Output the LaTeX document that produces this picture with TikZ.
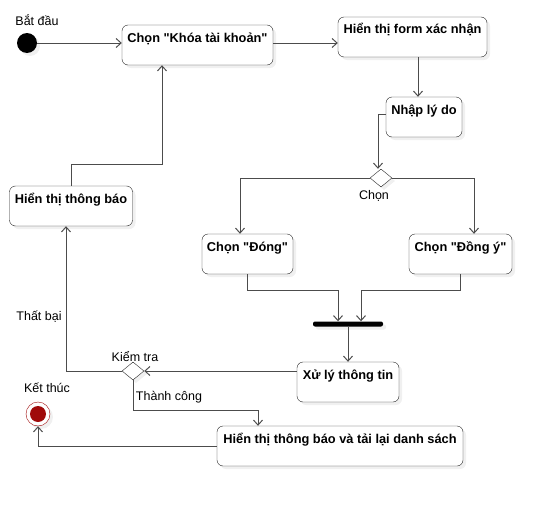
\documentclass[tikz,border=0pt]{standalone}
\usepackage{fontspec}
\setmainfont{Liberation Sans}
\usetikzlibrary{arrows.meta,shapes.geometric,shadows}
\definecolor{enddot}{RGB}{160,10,10}

\begin{document}
\begin{tikzpicture}[x=1pt,y=-1pt,font=\fontsize{12.5}{14}\selectfont,
    shade/.style={drop shadow={shadow xshift=3pt,shadow yshift=-3pt,opacity=.12}},
    act/.style={draw=black!85,fill=white,rounded corners=6pt,font=\fontsize{12.8}{14}\selectfont\bfseries,
      minimum height=40pt,text height=13pt,text depth=19pt,inner ysep=4pt,inner xsep=2pt,shade},
    choice/.style={diamond,draw=black!85,fill=white,minimum width=22pt,minimum height=18pt,inner sep=0pt,shade},
    flow/.style={draw=black!70,line width=1pt,-{Straight Barb[length=5pt,width=9pt]}}]
    \useasboundingbox (0,0) rectangle (552,506);
    \node[circle,fill=black,minimum size=20pt,inner sep=0pt,shade] (start) at (27,43) {};
    \node (lbStart) at (37,20) {Bắt đầu};
    \node[act,minimum width=151pt] (khoa) at (197.5,45) {Chọn \textquotedbl Khóa tài khoản\textquotedbl};
    \node[act,minimum width=149pt] (form) at (412.5,37) {Hiển thị form xác nhận};
    \node[act,minimum width=76pt] (nhap) at (424,117) {Nhập lý do};
    \node[choice] (chon) at (381,178) {};
    \node (lbChon) at (374,196) {Chọn};
    \node[act,minimum width=91pt] (dong) at (247.5,254) {Chọn \textquotedbl Đóng\textquotedbl};
    \node[act,minimum width=103pt] (dongy) at (460.5,254) {Chọn \textquotedbl Đồng ý\textquotedbl};
    \node[fill=black,minimum width=70pt,minimum height=5pt,inner sep=0pt,rounded corners=2pt,shade] (bar) at (348,324) {};
    \node[act,minimum width=102pt] (xuly) at (348,382) {Xử lý thông tin};
    \node[choice] (kiemtra) at (133,371) {};
    \node (lbKiemtra) at (135,357) {Kiểm tra};
    \node[act,minimum width=123pt] (thongbao) at (71,206) {Hiển thị thông báo};
    \node (lbThatbai) at (39,317) {Thất bại};
    \node (lbThanhcong) at (169,397) {Thành công};
    \node[act,minimum width=246pt] (taiLai) at (340,446) {Hiển thị thông báo và tải lại danh sách};
    \node[circle,draw=enddot,fill=white,minimum size=24pt,inner sep=0pt,shade] (stop) at (38,414) {};
    \fill[enddot] (stop) circle (8pt);
    \node (lbStop) at (47,388) {Kết thúc};
    \draw[flow] (start) -- (start -| khoa.west);
    \draw[flow] ([yshift=2pt]khoa.east) -- ([yshift=2pt]khoa.east -| form.west);
    \draw[flow] ([xshift=5.5pt]form.south) -- ([xshift=5.5pt]form.south |- nhap.north);
    \draw[flow] ([yshift=3pt]nhap.west) -| ([xshift=-3pt]chon.north);
    \draw[flow] (chon.west) -| ([xshift=-7.5pt]dong.north);
    \draw[flow] (chon.east) -| ([xshift=13.5pt]dongy.north);
    \draw[flow] (dong.south) -- ++(0,16) -| ([xshift=-10pt]bar.north);
    \draw[flow] (dongy.south) -- ++(0,16) -| ([xshift=13pt]bar.north);
    \draw[flow] (bar.south) -- (xuly.north);
    \draw[flow] (kiemtra.east -| xuly.west) -- (kiemtra.east);
    \draw[flow] (kiemtra.west) -| ([xshift=-5pt]thongbao.south);
    \draw[flow] (thongbao.north) -- ++(0,-21) -| ([xshift=-35.5pt]khoa.south);
    \draw[flow] (kiemtra.south) -- ++(0,30) -| ([xshift=-82pt]taiLai.north);
    \draw[flow] (taiLai.west) -| (stop.south);
\end{tikzpicture}
\end{document}
